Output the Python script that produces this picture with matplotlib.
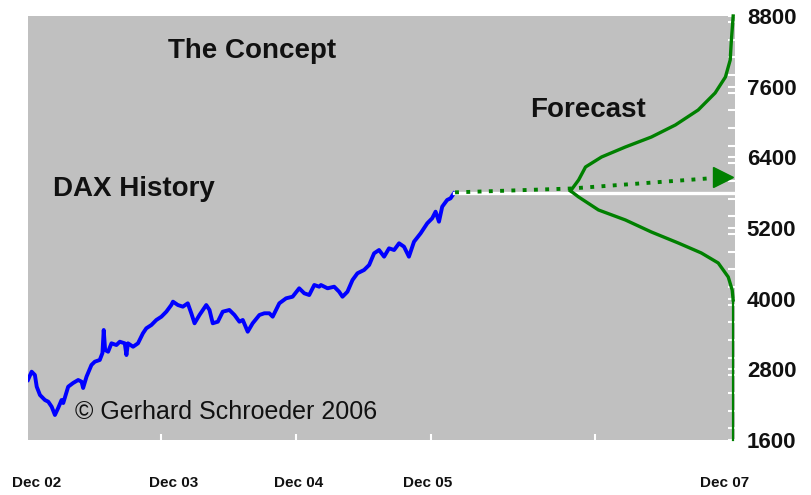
import matplotlib
matplotlib.use("Agg")
import matplotlib.pyplot as plt
from matplotlib.ticker import MultipleLocator, FixedLocator

plt.rcParams["font.family"] = ["Liberation Sans", "DejaVu Sans"]

# DAX history (decimal years, index points)
dax_years = [2002.917, 2002.943, 2002.966, 2002.979, 2003.002, 2003.037, 2003.061, 2003.085,
             2003.108, 2003.131, 2003.155, 2003.167, 2003.202, 2003.237, 2003.273, 2003.297,
             2003.308, 2003.332, 2003.367, 2003.391, 2003.426, 2003.445, 2003.454, 2003.464,
             2003.485, 2003.509, 2003.544, 2003.568, 2003.603, 2003.615, 2003.626, 2003.662,
             2003.697, 2003.732, 2003.756, 2003.792, 2003.827, 2003.863, 2003.898, 2003.933,
             2003.945, 2003.980, 2004.015, 2004.050, 2004.075, 2004.098, 2004.133, 2004.181,
             2004.204, 2004.227, 2004.263, 2004.298, 2004.345, 2004.381, 2004.416, 2004.440,
             2004.475, 2004.510, 2004.558, 2004.593, 2004.628, 2004.652, 2004.699, 2004.747,
             2004.793, 2004.840, 2004.876, 2004.911, 2004.947, 2004.982, 2004.994, 2005.041,
             2005.088, 2005.123, 2005.147, 2005.182, 2005.218, 2005.253, 2005.300, 2005.336,
             2005.371, 2005.406, 2005.442, 2005.477, 2005.513, 2005.548, 2005.583, 2005.618,
             2005.654, 2005.701, 2005.748, 2005.783, 2005.807, 2005.831, 2005.854, 2005.889,
             2005.913, 2005.937]
dax_values = [2620, 2760, 2704, 2505, 2364, 2279, 2250, 2165,
              2025, 2143, 2279, 2228, 2505, 2568, 2619, 2590,
              2483, 2675, 2874, 2930, 2959, 3077, 3468, 3128,
              3099, 3242, 3213, 3269, 3242, 3043, 3242, 3184,
              3242, 3412, 3497, 3553, 3638, 3694, 3779, 3892,
              3949, 3892, 3864, 3921, 3752, 3582, 3723, 3892,
              3808, 3582, 3609, 3779, 3808, 3723, 3609, 3638,
              3439, 3582, 3723, 3752, 3752, 3694, 3921, 4006,
              4033, 4176, 4091, 4062, 4232, 4203, 4232, 4176,
              4203, 4118, 4033, 4118, 4317, 4431, 4487, 4572,
              4770, 4826, 4713, 4855, 4826, 4940, 4883, 4713,
              4967, 5110, 5280, 5365, 5477, 5307, 5562, 5676,
              5704, 5789]

# flat level and trend forecast
level_years = [2005.937, 2007.93]
level_values = [5790, 5790]
trend_years = [2005.945, 2006.764, 2007.80]
trend_values = [5805, 5870, 6052]
arrow_year = 2007.845
arrow_value = 6058

# forecast envelope (upper / lower branch)
upper_years = [2006.764, 2006.821, 2006.870, 2006.984, 2007.153, 2007.337, 2007.507,
               2007.669, 2007.789, 2007.862, 2007.896, 2007.903, 2007.917]
upper_values = [5830, 6015, 6236, 6406, 6576, 6745, 6949,
                7204, 7493, 7764, 8053, 8342, 8800]
lower_years = [2006.764, 2006.821, 2006.962, 2007.153, 2007.337, 2007.528, 2007.691,
               2007.811, 2007.882, 2007.910, 2007.917]
lower_values = [5830, 5727, 5506, 5336, 5132, 4945, 4776,
                4606, 4368, 4147, 3978]
tail_years = [2007.917, 2007.917]
tail_values = [3978, 1600]

xtick_pos = [2002.981, 2003.949, 2004.833, 2005.753, 2007.853]
xtick_labels = ["Dec 02", "Dec 03", "Dec 04", "Dec 05", "Dec 07"]
xminor_pos = [2003.858, 2004.819, 2005.774, 2006.934]
ytick_pos = [1600, 2800, 4000, 5200, 6400, 7600, 8800]

green = "#008000"

fig = plt.figure(figsize=(8.11, 4.95), dpi=100)
ax = fig.add_axes([0.0345, 0.1111, 0.8718, 0.8566])
ax.set_facecolor("#c0c0c0")

ax.plot(dax_years, dax_values, color="#0000ff", lw=2.8, solid_joinstyle="round")
ax.plot(level_years, level_values, color="white", lw=2.4)
ax.plot(trend_years, trend_values, color=green, lw=2.8, linestyle=(0, (1.0, 1.9)))
ax.plot([arrow_year], [arrow_value], marker=">", ms=15, color=green)
ax.plot(upper_years, upper_values, color=green, lw=2.4, clip_on=False)
ax.plot(lower_years, lower_values, color=green, lw=2.4, clip_on=False)
ax.plot(tail_years, tail_values, color=green, lw=1.6, clip_on=False)

ax.set_xlim(2002.917, 2007.93)
ax.set_ylim(1600, 8800)

for s in ax.spines.values():
    s.set_visible(False)

ax.yaxis.tick_right()
ax.set_yticks(ytick_pos)
ax.set_yticklabels([str(v) for v in ytick_pos], fontsize=16, fontweight="bold")
ax.yaxis.set_minor_locator(MultipleLocator(300))
ax.tick_params(axis="y", which="both", direction="in", colors="white", length=5, width=1.5,
               pad=8.5, labelcolor="#111111")

ax.set_xticks(xtick_pos)
ax.set_xticklabels(xtick_labels, fontsize=11, fontweight="bold")
ax.xaxis.set_minor_locator(FixedLocator(xminor_pos))
ax.tick_params(axis="x", which="major", length=0, pad=26, labelcolor="#111111")
ax.tick_params(axis="x", which="minor", direction="in", colors="white", length=4, width=1.5)

ax.text(0.317, 0.901, "The Concept", transform=ax.transAxes, ha="center", va="baseline",
        fontsize=20, fontweight="bold", color="#111111")
ax.text(0.035, 0.575, "DAX History", transform=ax.transAxes, ha="left", va="baseline",
        fontsize=20, fontweight="bold", color="#111111")
ax.text(0.710, 0.762, "Forecast", transform=ax.transAxes, ha="left", va="baseline",
        fontsize=20, fontweight="bold", color="#111111")
ax.text(0.066, 0.0495, "\u00a9 Gerhard Schroeder 2006", transform=ax.transAxes, ha="left",
        va="baseline", fontsize=18, color="#111111")

fig.savefig("out.png", dpi=100)
